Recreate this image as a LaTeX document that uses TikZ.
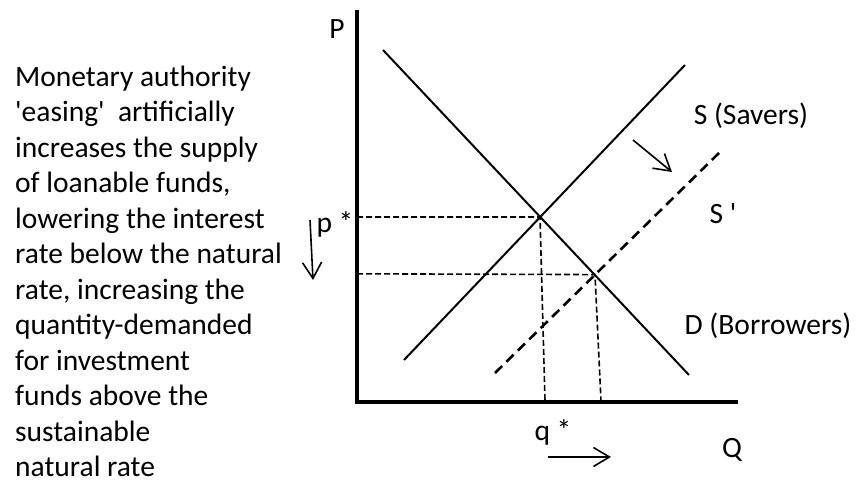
\documentclass[tikz,border=0pt]{standalone}
\usepackage{fontspec}
\setmainfont{Carlito}[Ligatures=TeXOff]
\usetikzlibrary{arrows.meta}
\begin{document}
\begin{tikzpicture}[x=1pt,y=-1pt,
  lbl/.style={inner sep=0pt,anchor=base,font=\fontsize{29.5}{35.45}\selectfont},
  txt/.style={inner sep=0pt,anchor=base west,font=\fontsize{29.5}{35.45}\selectfont},
  axisline/.style={line width=4.5pt,line join=miter},
  curve/.style={line width=2pt},
  shifted/.style={line width=2.6pt,dash pattern=on 10pt off 6pt},
  guide/.style={line width=1.6pt,dash pattern=on 6pt off 3pt},
  moveArrow/.style={line width=1.6pt,-{Straight Barb[length=16pt,width=19pt,line width=1.6pt]}}]
\useasboundingbox (0,0) rectangle (857,481);
% explanatory text
\foreach \t [count=\i from 0] in {Monetary authority,{'easing'\ \ artificially},increases the supply,{of loanable funds,},lowering the interest,rate below the natural,{rate, increasing the},quantity-demanded,for investment,funds above the,sustainable,natural rate}
  \node[txt] (t\i) at (15,{86.5+35.45*\i}) {\t};
% axes
\coordinate (ytop) at (357,10);
\coordinate (orig) at (357,402);
\coordinate (xend) at (738,402);
\draw[axisline] (ytop) -- (orig) -- (xend);
\node[lbl] (P) at (337,39) {P};
\node[lbl] (Q) at (732,457) {Q};
% curves
\coordinate (Dtop) at (383,50);
\coordinate (Dbot) at (689,375);
\coordinate (Sbot) at (404,360);
\coordinate (Stop) at (685,65);
\coordinate (S2bot) at (495,373);
\coordinate (S2top) at (722,150);
\coordinate (E1) at (540,217);
\coordinate (E2) at (595,274.6);
\draw[curve] (Dtop) -- (Dbot);
\draw[curve] (Sbot) -- (Stop);
\draw[shifted] (S2bot) -- (S2top);
% guides
\coordinate (pE1) at (357,217);
\coordinate (qE1) at (545,401);
\coordinate (pE2) at (357,273.8);
\coordinate (qE2) at (601,401);
\draw[guide] (pE1) -- (E1) -- (qE1);
\draw[guide] (pE2) -- (E2) -- (qE2);
% labels
\node[lbl] (Ssav) at (751,125) {S (Savers)};
\node[lbl] (Sp) at (723,224) {S '};
\node[lbl] (Dbor) at (768,334) {D (Borrowers)};
\node[lbl] (pstar) at (335,233) {p *};
\node[lbl] (qstar) at (553,440) {q *};
% movement arrows
\coordinate (a1s) at (633,140);
\coordinate (a1e) at (672,172);
\coordinate (a2s) at (310,220);
\coordinate (a2e) at (313,280);
\coordinate (a3s) at (548,457);
\coordinate (a3e) at (611,457);
\draw[moveArrow] (a1s) -- (a1e);
\draw[moveArrow] (a2s) -- (a2e);
\draw[moveArrow] (a3s) -- (a3e);
\end{tikzpicture}
\end{document}
